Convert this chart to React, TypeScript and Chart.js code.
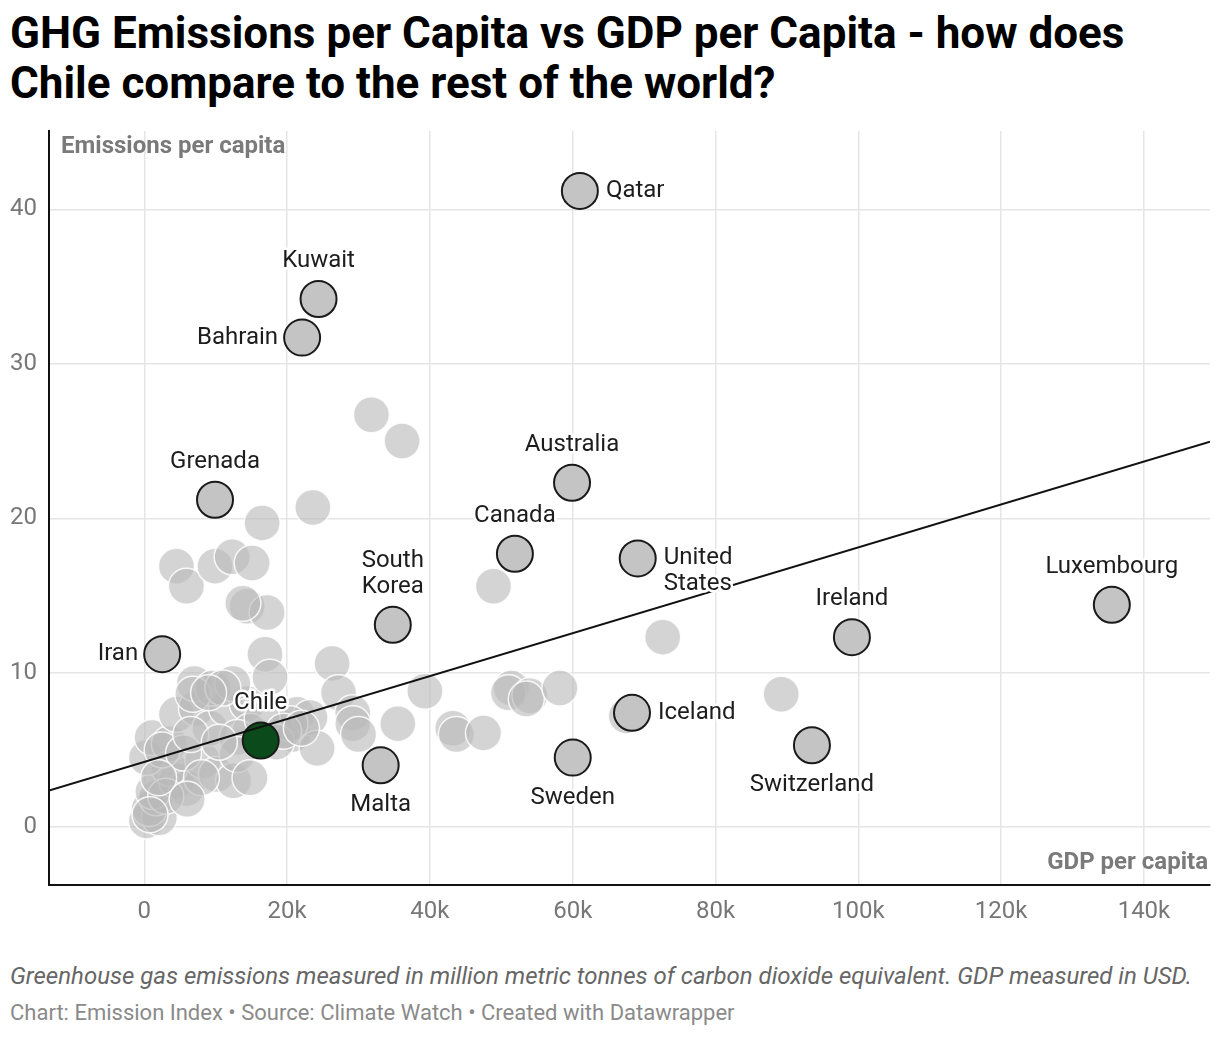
import { useEffect, useRef } from 'react';
import { Chart, registerables } from 'chart.js';

Chart.register(...registerables);

// highlighted countries
const countries = ['Qatar', 'Kuwait', 'Bahrain', 'Grenada', 'Australia', 'Canada', 'United States', 'South Korea', 'Iran', 'Chile', 'Malta', 'Sweden', 'Iceland', 'Ireland', 'Switzerland', 'Luxembourg'];
const countryGdp = [61000, 24400, 22100, 9900, 59900, 51900, 69100, 34800, 2500, 16300, 33100, 60000, 68300, 99100, 93500, 135500];
const countryEmissions = [41.2, 34.2, 31.7, 21.2, 22.3, 17.7, 17.4, 13.1, 11.2, 5.6, 4.0, 4.5, 7.4, 12.3, 5.3, 14.4];

// all other countries (grey)
const otherGdp = [
  300, 2100, 700, 1700, 1200, 4500, 5900, 3500, 300, 8200, 10100, 12500, 1100, 3500, 4500, 7300,
  9200, 11500, 14400, 14800, 13000, 13000, 14800, 7000, 9600, 12400, 6800, 16900, 17600, 20800,
  21400, 23200, 20400, 24200, 26300, 27200, 29200, 29200, 30000, 35500, 39300, 43200, 43700, 47500,
  51400, 51000, 54000, 53500, 58200, 67500, 72600, 89200, 48900, 31800, 36100, 23600, 16500, 4500,
  5900, 9900, 12300, 15100, 14400, 17200, 13800, 2500, 5500, 6500, 10500, 8000, 3000, 2000,
  16500, 18500, 11000, 9000, 6000, 800, 19500, 22000,
];
const otherEmissions = [
  0.4, 0.6, 1.2, 1.9, 2.3, 3.0, 2.5, 3.8, 4.5, 4.3, 3.4, 3.0, 5.8, 5.4, 7.3, 7.7,
  6.4, 7.7, 8.0, 6.2, 5.8, 4.7, 3.2, 9.3, 9.0, 9.3, 8.6, 11.2, 9.7, 6.0,
  7.3, 7.1, 6.7, 5.1, 10.6, 8.7, 7.4, 6.7, 6.0, 6.7, 8.8, 6.4, 6.0, 6.1,
  9.0, 8.7, 8.5, 8.3, 9.0, 7.2, 12.3, 8.6, 15.6, 26.7, 25.0, 20.7, 19.7, 16.9,
  15.6, 16.9, 17.5, 17.1, 14.3, 13.9, 14.5, 5.0, 4.8, 6.0, 5.5, 3.2, 2.0, 3.2,
  7.0, 5.5, 9.0, 8.7, 1.8, 0.8, 6.2, 6.4,
];

const xTicks = [0, 20000, 40000, 60000, 80000, 100000, 120000, 140000];
const yTicks = [0, 10, 20, 30, 40];

// linear trend line (emissions = intercept + slope * gdp)
const trendIntercept = 4.22;
const trendSlope = 0.000139;

const X_MIN = -13350;
const X_MAX = 149250;
const Y_MIN = -3.75;
const Y_MAX = 45.08;

// where each country label sits relative to its point
const labelSide: Record<string, string> = {
  Qatar: 'right', Kuwait: 'above', Bahrain: 'left', Grenada: 'above', Australia: 'above',
  Canada: 'above', 'United States': 'right', 'South Korea': 'above', Iran: 'left', Chile: 'above',
  Malta: 'below', Sweden: 'below', Iceland: 'right', Ireland: 'above', Switzerland: 'below',
  Luxembourg: 'above',
};
const labelLines: Record<string, string[]> = {
  'United States': ['United', 'States'],
  'South Korea': ['South', 'Korea'],
};

const FONT = 'Roboto, "Noto Sans", sans-serif';

const labelsPlugin = {
  id: 'countryLabels',
  afterDatasetsDraw(chart: any) {
    const ctx = chart.ctx;
    const area = chart.chartArea;
    ctx.save();
    ctx.font = `bold 24px ${FONT}`;
    ctx.fillStyle = '#7a7a7a';
    ctx.textBaseline = 'alphabetic';
    ctx.textAlign = 'left';
    ctx.fillText('Emissions per capita', area.left + 12, area.top + 22);
    ctx.textAlign = 'right';
    ctx.fillText('GDP per capita', area.right - 2, area.bottom - 16);

    const meta = chart.getDatasetMeta(1);
    ctx.font = `24px ${FONT}`;
    ctx.lineJoin = 'round';
    countries.forEach((name, i) => {
      const el = meta.data[i];
      if (!el) return;
      const side = labelSide[name];
      const lines = labelLines[name] || [name];
      let x = el.x;
      let y = el.y;
      let align: CanvasTextAlign = 'center';
      if (side === 'above') {
        y = el.y - 38 - (lines.length - 1) * 26;
      } else if (side === 'below') {
        y = el.y + 40;
      } else if (side === 'right') {
        x = el.x + 26;
        align = 'left';
      } else {
        x = el.x - 24;
        align = 'right';
      }
      ctx.textAlign = align;
      ctx.textBaseline = 'middle';
      lines.forEach((line, k) => {
        ctx.strokeStyle = '#ffffff';
        ctx.lineWidth = 5;
        ctx.strokeText(line, x, y + k * 26);
        ctx.fillStyle = '#1d1d1d';
        ctx.fillText(line, x, y + k * 26);
      });
    });
    ctx.restore();
  },
};

function ScatterChart() {
  const chartRef = useRef<HTMLCanvasElement>(null);

  useEffect(() => {
    if (!chartRef.current) return;

    const chart = new Chart(chartRef.current, {
      type: 'scatter',
      data: {
        datasets: [
          {
            type: 'line',
            data: [X_MIN, X_MAX].map(x => ({ x, y: trendIntercept + trendSlope * x })),
            borderColor: '#111111',
            borderWidth: 2,
            pointRadius: 0,
            order: 0,
          } as any,
          {
            data: countryGdp.map((x, i) => ({ x, y: countryEmissions[i] })),
            backgroundColor: countries.map(c => (c === 'Chile' ? '#0a4a1b' : '#c4c4c4')),
            borderColor: '#1a1a1a',
            borderWidth: 2,
            pointRadius: 18,
            order: 1,
          },
          {
            data: otherGdp.map((x, i) => ({ x, y: otherEmissions[i] })),
            backgroundColor: 'rgba(185,185,185,0.62)',
            borderColor: 'rgba(255,255,255,0.85)',
            borderWidth: 1.5,
            pointRadius: 18,
            order: 2,
          },
        ],
      },
      options: {
        responsive: false,
        animation: false,
        layout: { autoPadding: false, padding: { top: 9, right: 10, left: 0, bottom: 0 } },
        plugins: {
          legend: { display: false },
          tooltip: { enabled: false },
        },
        scales: {
          x: {
            type: 'linear',
            min: X_MIN,
            max: X_MAX,
            afterBuildTicks: (scale: any) => {
              scale.ticks = xTicks.map(value => ({ value }));
            },
            afterFit: (scale: any) => {
              scale.height = 67;
              scale.paddingLeft = 0;
              scale.paddingRight = 0;
            },
            ticks: {
              color: '#777777',
              font: { family: FONT, size: 24 },
              padding: 13,
              maxRotation: 0,
              callback: (v: any) => (v === 0 ? '0' : `${v / 1000}k`),
            },
            grid: { color: '#e5e5e5', lineWidth: 1.5, drawTicks: false },
            border: { color: '#111111', width: 2 },
          },
          y: {
            type: 'linear',
            min: Y_MIN,
            max: Y_MAX,
            afterBuildTicks: (scale: any) => {
              scale.ticks = yTicks.map(value => ({ value }));
            },
            afterFit: (scale: any) => {
              scale.width = 49;
              scale.paddingTop = 0;
              scale.paddingBottom = 0;
            },
            ticks: {
              color: '#777777',
              font: { family: FONT, size: 24 },
              padding: 12,
            },
            grid: { color: '#e5e5e5', lineWidth: 1.5, drawTicks: false },
            border: { color: '#111111', width: 2 },
          },
        },
      },
      plugins: [labelsPlugin],
    });

    return () => {
      chart.destroy();
    };
  }, []);

  return <canvas ref={chartRef} width={1220} height={830} style={{ position: 'absolute', left: 0, top: 122, width: 1220, height: 830 }} />;
}

export default function App() {
  useEffect(() => {
    document.body.style.margin = '0';
  }, []);

  return (
    <div style={{ position: 'relative', width: 1220, height: 1038, fontFamily: FONT, background: '#fff' }}>
      <div style={{ position: 'absolute', left: 10, top: 8, fontSize: 44, fontWeight: 700, lineHeight: '50px', color: '#000', whiteSpace: 'nowrap' }}>
        GHG Emissions per Capita vs GDP per Capita - how does
        <br />
        Chile compare to the rest of the world?
      </div>
      <ScatterChart />
      <div style={{ position: 'absolute', left: 10, top: 962, fontSize: 24, fontStyle: 'italic', color: '#666', whiteSpace: 'nowrap' }}>
        Greenhouse gas emissions measured in million metric tonnes of carbon dioxide equivalent. GDP measured in USD.
      </div>
      <div style={{ position: 'absolute', left: 10, top: 1000, fontSize: 22, color: '#8a8a8a', whiteSpace: 'nowrap' }}>
        Chart: Emission Index • Source: Climate Watch • Created with Datawrapper
      </div>
    </div>
  );
}
